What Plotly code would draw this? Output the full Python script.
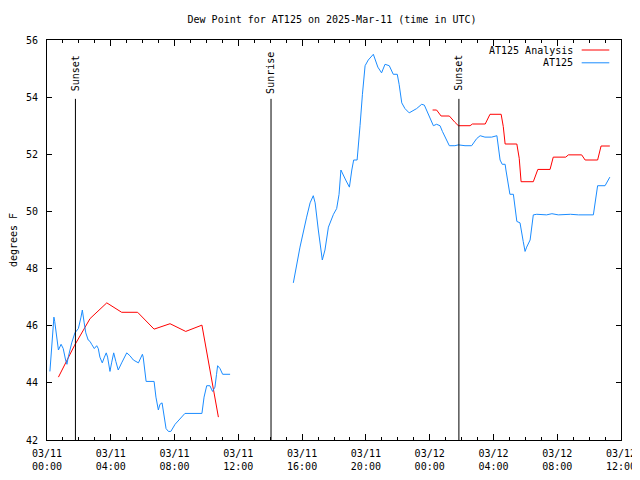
import plotly.graph_objects as go

# ---------------- data ----------------
obs_times = [
    "2025-03-11 00:11", "2025-03-11 00:26", "2025-03-11 00:29", "2025-03-11 00:38", "2025-03-11 00:43",
    "2025-03-11 00:53", "2025-03-11 01:01", "2025-03-11 01:10", "2025-03-11 01:15", "2025-03-11 01:20",
    "2025-03-11 01:33", "2025-03-11 01:45", "2025-03-11 01:58", "2025-03-11 02:08", "2025-03-11 02:13",
    "2025-03-11 02:20", "2025-03-11 02:26", "2025-03-11 02:35", "2025-03-11 02:42", "2025-03-11 02:48",
    "2025-03-11 02:58", "2025-03-11 03:07", "2025-03-11 03:13", "2025-03-11 03:19", "2025-03-11 03:28",
    "2025-03-11 03:36", "2025-03-11 03:43", "2025-03-11 03:48", "2025-03-11 03:57", "2025-03-11 04:03",
    "2025-03-11 04:11", "2025-03-11 04:19", "2025-03-11 04:28", "2025-03-11 04:41", "2025-03-11 05:00",
    "2025-03-11 05:12", "2025-03-11 05:25", "2025-03-11 05:44", "2025-03-11 05:59", "2025-03-11 06:02",
    "2025-03-11 06:06", "2025-03-11 06:13", "2025-03-11 06:43", "2025-03-11 06:50", "2025-03-11 06:59",
    "2025-03-11 07:05", "2025-03-11 07:13", "2025-03-11 07:18", "2025-03-11 07:28", "2025-03-11 07:37",
    "2025-03-11 07:46", "2025-03-11 08:02", "2025-03-11 08:20", "2025-03-11 08:39", "2025-03-11 09:43",
    "2025-03-11 09:51", "2025-03-11 10:01", "2025-03-11 10:13", "2025-03-11 10:23", "2025-03-11 10:32",
    "2025-03-11 10:38", "2025-03-11 10:42", "2025-03-11 10:51", "2025-03-11 11:01", "2025-03-11 11:29",
    "2025-03-11 13:30",
    "2025-03-11 15:27", "2025-03-11 15:52", "2025-03-11 16:17", "2025-03-11 16:30", "2025-03-11 16:42",
    "2025-03-11 16:49", "2025-03-11 17:01", "2025-03-11 17:16", "2025-03-11 17:26", "2025-03-11 17:39",
    "2025-03-11 17:58", "2025-03-11 18:10", "2025-03-11 18:19", "2025-03-11 18:26", "2025-03-11 18:44",
    "2025-03-11 18:58", "2025-03-11 19:07", "2025-03-11 19:14", "2025-03-11 19:27", "2025-03-11 19:31",
    "2025-03-11 19:38", "2025-03-11 19:47", "2025-03-11 19:57", "2025-03-11 20:09", "2025-03-11 20:28",
    "2025-03-11 20:45", "2025-03-11 20:59", "2025-03-11 21:12", "2025-03-11 21:28", "2025-03-11 21:43",
    "2025-03-11 21:58", "2025-03-11 22:05", "2025-03-11 22:15", "2025-03-11 22:27", "2025-03-11 22:43",
    "2025-03-11 23:11", "2025-03-11 23:30", "2025-03-11 23:40", "2025-03-11 23:53", "2025-03-12 00:14",
    "2025-03-12 00:26", "2025-03-12 00:39", "2025-03-12 00:48", "2025-03-12 01:14", "2025-03-12 01:35",
    "2025-03-12 01:48", "2025-03-12 02:13", "2025-03-12 02:38", "2025-03-12 02:57", "2025-03-12 03:10",
    "2025-03-12 03:28", "2025-03-12 03:53", "2025-03-12 04:13", "2025-03-12 04:19", "2025-03-12 04:25",
    "2025-03-12 04:33", "2025-03-12 04:44", "2025-03-12 04:47", "2025-03-12 04:56", "2025-03-12 05:02",
    "2025-03-12 05:15", "2025-03-12 05:19", "2025-03-12 05:28", "2025-03-12 05:40", "2025-03-12 05:46",
    "2025-03-12 05:52", "2025-03-12 05:59", "2025-03-12 06:05", "2025-03-12 06:18", "2025-03-12 06:24",
    "2025-03-12 06:30", "2025-03-12 06:43", "2025-03-12 07:20", "2025-03-12 07:40", "2025-03-12 08:04",
    "2025-03-12 08:50", "2025-03-12 09:20", "2025-03-12 10:16", "2025-03-12 10:22", "2025-03-12 10:32",
    "2025-03-12 10:41", "2025-03-12 11:00", "2025-03-12 11:12", "2025-03-12 11:18",
]
obs_dewpt = [
    44.4, 46.3, 46.15, 45.6, 45.15,
    45.35, 45.2, 44.8, 44.65, 44.9,
    45.4, 45.75, 45.9, 46.3, 46.55,
    46.1, 45.75, 45.5, 45.45, 45.35,
    45.2, 45.3, 45.2, 44.9, 44.7,
    44.9, 45.05, 44.9, 44.4, 44.7,
    45.05, 44.75, 44.45, 44.7, 45.05,
    44.95, 44.8, 44.7, 45.0, 44.9,
    44.6, 44.05, 44.05, 43.5, 43.05,
    43.25, 43.3, 42.95, 42.4, 42.3,
    42.3, 42.55, 42.75, 42.93, 42.93,
    43.5, 43.9, 43.9, 43.7, 43.85,
    44.3, 44.6, 44.5, 44.3, 44.3,
    None,
    47.5, 48.75, 49.8, 50.3, 50.55,
    50.3, 49.35, 48.3, 48.65, 49.45,
    49.9, 50.1, 50.6, 51.45, 51.1,
    50.85, 51.45, 51.8, 51.8, 52.2,
    53.0, 54.1, 55.1, 55.3, 55.5,
    55.05, 54.85, 55.15, 55.1, 54.8,
    54.8, 54.45, 53.8, 53.6, 53.45,
    53.6, 53.75, 53.72, 53.45, 53.0,
    53.05, 53.0, 52.8, 52.3, 52.3,
    52.33, 52.3, 52.3, 52.55, 52.65,
    52.6, 52.6, 52.65, 52.3, 51.8,
    51.65, 51.65, 51.45, 50.85, 50.6,
    50.6, 50.3, 49.65, 49.6, 49.2,
    48.95, 48.6, 48.75, 49.0, 49.45,
    49.88, 49.9, 49.88, 49.92, 49.88,
    49.9, 49.88, 49.88, 50.3, 50.9,
    50.9, 50.9, 51.1, 51.2,
]

ana_times = [
    "2025-03-11 00:43", "2025-03-11 01:43", "2025-03-11 02:42", "2025-03-11 03:45", "2025-03-11 04:41",
    "2025-03-11 05:41", "2025-03-11 06:43", "2025-03-11 07:43", "2025-03-11 08:42", "2025-03-11 09:43",
    "2025-03-11 10:45",
    "2025-03-11 18:00",
    "2025-03-12 00:11", "2025-03-12 00:26", "2025-03-12 00:43", "2025-03-12 01:14", "2025-03-12 01:35",
    "2025-03-12 01:48", "2025-03-12 02:32", "2025-03-12 02:41", "2025-03-12 03:29", "2025-03-12 03:47",
    "2025-03-12 04:29", "2025-03-12 04:37", "2025-03-12 04:44", "2025-03-12 05:28", "2025-03-12 05:37",
    "2025-03-12 05:44", "2025-03-12 06:30", "2025-03-12 06:47", "2025-03-12 07:33", "2025-03-12 07:45",
    "2025-03-12 08:32", "2025-03-12 08:42", "2025-03-12 09:32", "2025-03-12 09:45", "2025-03-12 10:32",
    "2025-03-12 10:45", "2025-03-12 11:18",
]
ana_dewpt = [
    44.2, 45.3, 46.25, 46.8, 46.47,
    46.47, 45.88, 46.07, 45.8, 46.02,
    42.8,
    None,
    53.55, 53.55, 53.34, 53.34, 53.12,
    53.0, 53.0, 53.06, 53.06, 53.4,
    53.4, 52.97, 52.36, 52.36, 51.86,
    51.04, 51.04, 51.47, 51.47, 51.9,
    51.9, 51.98, 51.98, 51.8, 51.8,
    52.29, 52.29,
]

event_times = ["2025-03-11 01:47", "2025-03-11 14:03", "2025-03-12 01:50"]
event_labels = ["Sunset", "Sunrise", "Sunset"]
event_line_top = 53.94
event_label_y = 54.85

tick_vals = [
    "2025-03-11 00:00", "2025-03-11 04:00", "2025-03-11 08:00", "2025-03-11 12:00", "2025-03-11 16:00",
    "2025-03-11 20:00", "2025-03-12 00:00", "2025-03-12 04:00", "2025-03-12 08:00", "2025-03-12 12:00",
]
tick_text = [
    "03/11<br>00:00", "03/11<br>04:00", "03/11<br>08:00", "03/11<br>12:00", "03/11<br>16:00",
    "03/11<br>20:00", "03/12<br>00:00", "03/12<br>04:00", "03/12<br>08:00", "03/12<br>12:00",
]

RED = "#ff0000"
BLUE = "#1a8cff"
FONT = "DejaVu Sans Mono"

# ---------------- figure ----------------
fig = go.Figure()
fig.add_trace(go.Scatter(x=ana_times, y=ana_dewpt, mode="lines", name="AT125 Analysis",
                         line=dict(color=RED, width=1), connectgaps=False))
fig.add_trace(go.Scatter(x=obs_times, y=obs_dewpt, mode="lines", name="AT125",
                         line=dict(color=BLUE, width=1), connectgaps=False))

for t, lab in zip(event_times, event_labels):
    fig.add_shape(type="line", xref="x", yref="y", x0=t, x1=t, y0=42, y1=event_line_top,
                  line=dict(color="black", width=1))
    fig.add_annotation(x=t, y=event_label_y, xref="x", yref="y", text=lab, textangle=-90,
                       showarrow=False, font=dict(family=FONT, size=10, color="black"))

# custom legend (text right, sample line on the right)
legend_items = [("AT125 Analysis", RED, 0.975), ("AT125", BLUE, 0.943)]
for name, col, yy in legend_items:
    fig.add_annotation(x=0.919, y=yy, xref="paper", yref="paper", text=name, xanchor="right",
                       yanchor="middle", showarrow=False, font=dict(family=FONT, size=10, color="black"))
    fig.add_shape(type="line", xref="paper", yref="paper", x0=0.9315, x1=0.9796, y0=yy, y1=yy,
                  line=dict(color=col, width=1))

# the page body has an 8px margin, so the figure is sized to fit the window
fig.update_layout(
    width=632, height=472,
    margin=dict(l=39, r=19, t=32, b=40, autoexpand=False),
    paper_bgcolor="white", plot_bgcolor="white",
    showlegend=False,
    font=dict(family=FONT, size=10, color="black"),
    title=dict(text="Dew Point for AT125 on 2025-Mar-11 (time in UTC)", x=0.5127, xanchor="center",
               y=0.9746, yanchor="middle", font=dict(family=FONT, size=10, color="black")),
)
fig.update_xaxes(
    range=["2025-03-11 00:00", "2025-03-12 12:00"],
    automargin=False,
    tickmode="array", tickvals=tick_vals, ticktext=tick_text,
    ticks="inside", ticklen=6, tickcolor="black", tickwidth=1, ticklabelstandoff=4,
    minor=dict(dtick=3600000, ticks="inside", ticklen=3, tickcolor="black", showgrid=False),
    showline=True, linecolor="black", linewidth=1, mirror="allticks",
    showgrid=False, zeroline=False,
)
fig.update_yaxes(
    range=[42, 56], dtick=2, tick0=42,
    automargin=False,
    ticks="inside", ticklen=5, tickcolor="black", ticklabelstandoff=6,
    showline=True, linecolor="black", linewidth=1, mirror="allticks",
    showgrid=False, zeroline=False,
    title=dict(text="degrees F", font=dict(family=FONT, size=10), standoff=10),
)

fig.write_html("out.html")
